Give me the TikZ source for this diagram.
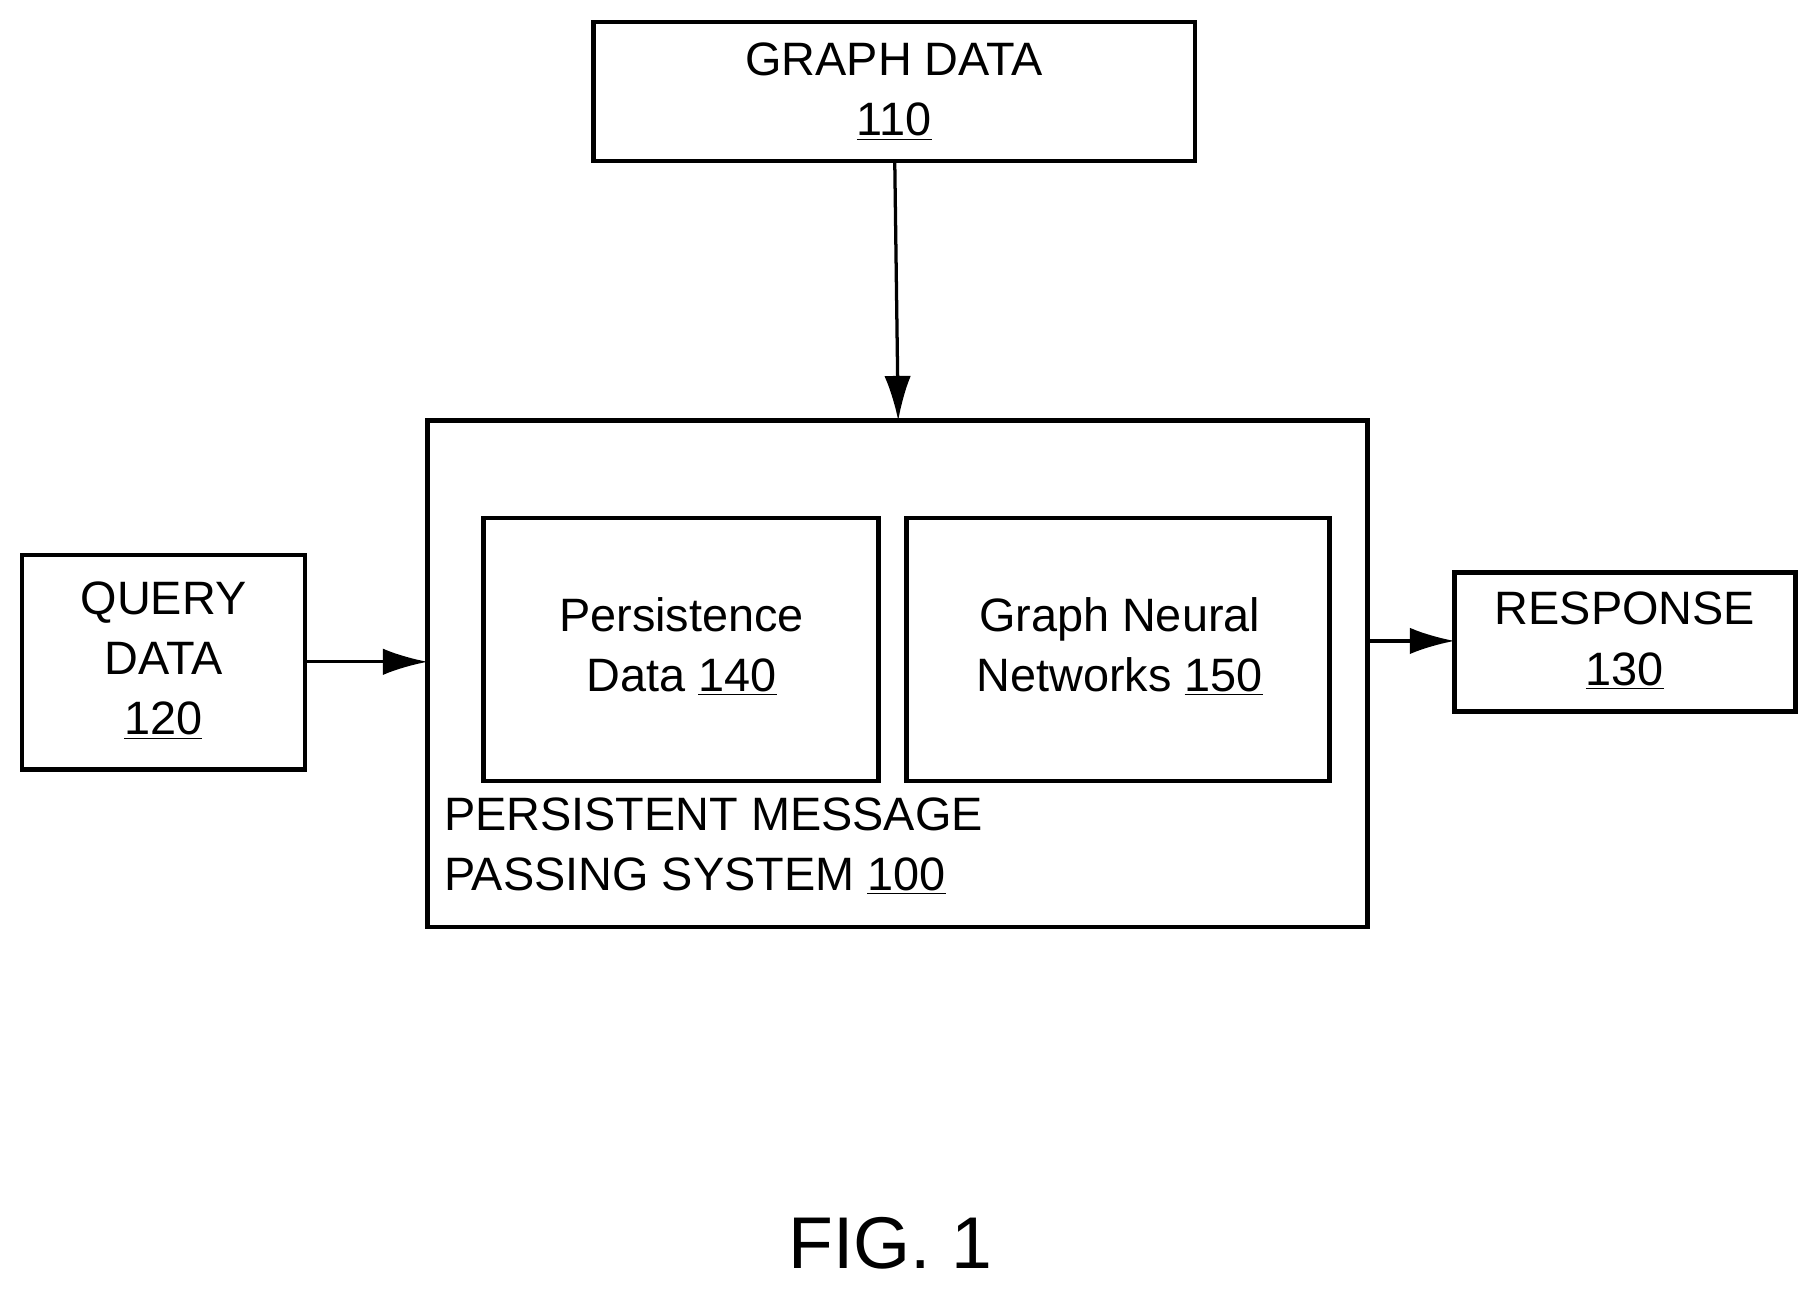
\documentclass[tikz,border=0pt]{standalone}
\usepackage{fontspec}
\setmainfont{Liberation Sans}
\usetikzlibrary{arrows.meta}
\begin{document}
\begin{tikzpicture}[x=0.02cm,y=-0.02cm,
  box/.style={draw,line width=2.2pt},
  lbl/.style={font=\fontsize{23}{29.5}\selectfont,align=center},
  arr/.style={line width=1.6pt,-{Latex[length=22pt,width=13pt]}}]
\useasboundingbox (0,0) rectangle (1566,1113);
\draw[box] (512,19) rectangle (1031,139);
\node[lbl] (gd) at (771.5,79) {GRAPH DATA\\\underline{110}};
\coordinate (gdb) at (772,139);
\draw[box] (369,363) rectangle (1180,800);
\coordinate (mt) at (775,363);
\coordinate (ml) at (369,571);
\coordinate (mr) at (1180,553);
\draw[box] (417,447) rectangle (758,674);
\node[lbl] (pd) at (588,558) {Persistence\\Data \underline{140}};
\draw[box] (782,447) rectangle (1147,674);
\node[lbl] (gnn) at (966,558) {Graph Neural\\Networks \underline{150}};
\node[lbl,align=left,anchor=north west] (pm) at (377,682) {PERSISTENT MESSAGE\\PASSING SYSTEM \underline{100}};
\draw[box] (19,479) rectangle (263,664);
\node[lbl] (qd) at (141,570) {QUERY\\DATA\\\underline{120}};
\coordinate (qr) at (263,571);
\draw[box] (1255,494) rectangle (1549,614);
\node[lbl] (rs) at (1402,553) {RESPONSE\\\underline{130}};
\coordinate (rl) at (1255,553);
\draw[arr] (gdb) -- (mt);
\draw[arr] (qr) -- (ml);
\draw[arr] (mr) -- (rl);
\node[font=\fontsize{36}{40}\selectfont] (fig) at (768,1073) {FIG. 1};
\end{tikzpicture}
\end{document}
